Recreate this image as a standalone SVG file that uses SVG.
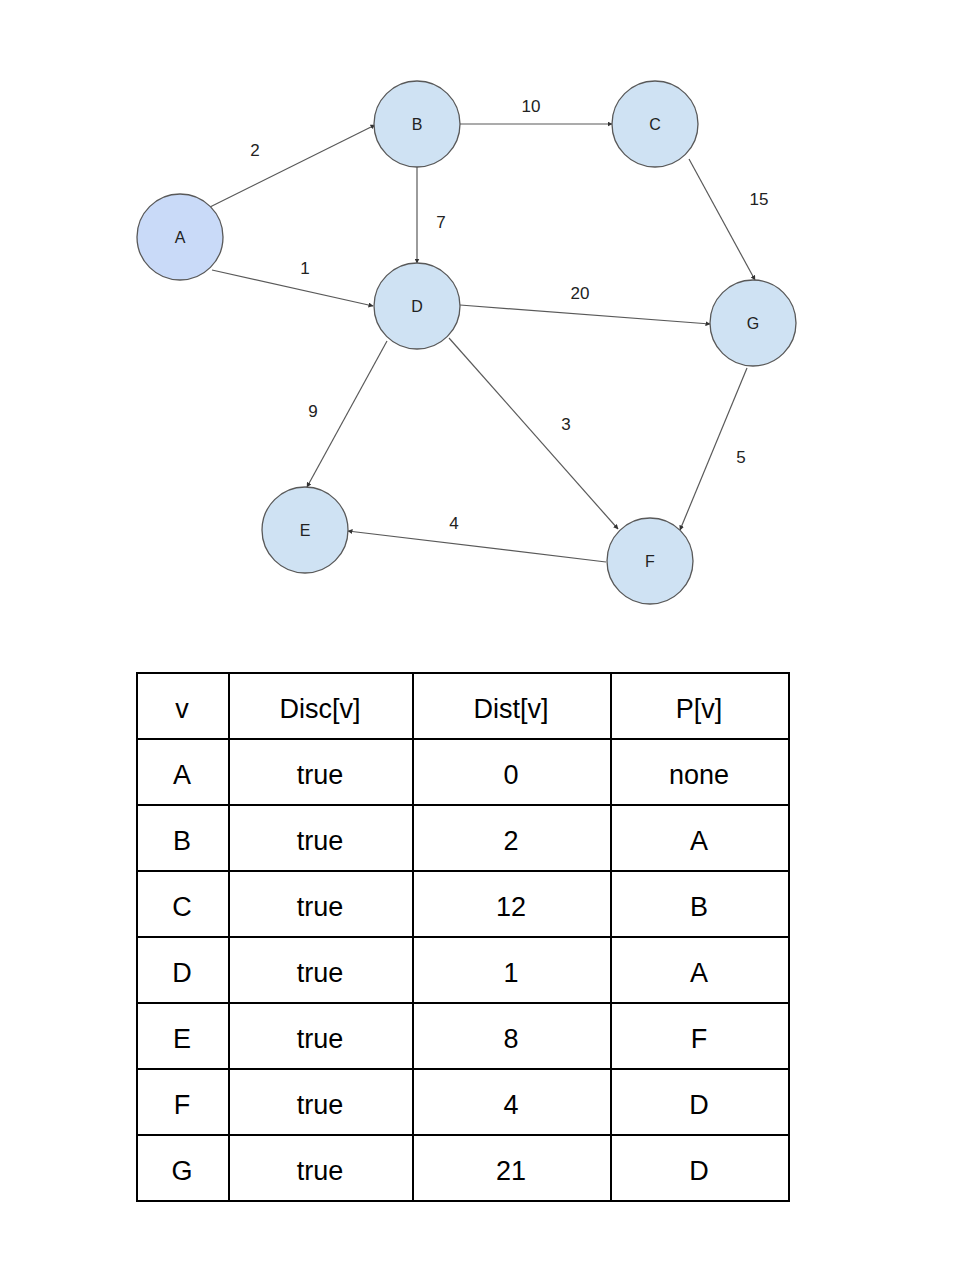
<svg xmlns="http://www.w3.org/2000/svg" width="974" height="1286" viewBox="0 0 974 1286">
  <style>
    .node { fill: #cfe2f3; stroke: #595959; stroke-width: 1.3; }
    .start { fill: #c9daf8; }
    .nlabel { font-family: "Liberation Sans", Arial, sans-serif; font-size: 16px; fill: #222; text-anchor: middle; dominant-baseline: central; }
    .edge { stroke: #595959; stroke-width: 1.2; fill: none; marker-end: url(#arrow); }
    .elabel { font-family: "Liberation Sans", Arial, sans-serif; font-size: 17px; fill: #222; text-anchor: middle; dominant-baseline: central; }
    .grid { stroke: #000; stroke-width: 2; fill: none; }
    .cell { font-family: "Liberation Sans", Arial, sans-serif; font-size: 27px; fill: #000; text-anchor: middle; dominant-baseline: central; }
  </style>
  <defs>
    <marker id="arrow" viewBox="0 0 10 10" refX="9" refY="5" markerWidth="5" markerHeight="5" orient="auto" markerUnits="userSpaceOnUse">
      <path d="M0,0 L10,5 L0,10 z" fill="#333"/>
    </marker>
  </defs>
  <rect width="974" height="1286" fill="#fff"/>

  <!-- weighted directed edges -->
  <g id="edges">
    <line class="edge" x1="210" y1="207" x2="375" y2="125"/>
    <line class="edge" x1="212" y1="270" x2="373" y2="306"/>
    <line class="edge" x1="417" y1="166" x2="417" y2="263"/>
    <line class="edge" x1="460" y1="124" x2="612" y2="124"/>
    <line class="edge" x1="689" y1="159" x2="755" y2="280"/>
    <line class="edge" x1="460" y1="305" x2="710" y2="324"/>
    <line class="edge" x1="387" y1="341" x2="307" y2="487"/>
    <line class="edge" x1="449" y1="338" x2="618" y2="529"/>
    <line class="edge" x1="747" y1="368" x2="680" y2="530"/>
    <line class="edge" x1="606" y1="562" x2="348" y2="531"/>
    <text class="elabel" x="255" y="150">2</text>
    <text class="elabel" x="305" y="268">1</text>
    <text class="elabel" x="441" y="222">7</text>
    <text class="elabel" x="531" y="106">10</text>
    <text class="elabel" x="759" y="199">15</text>
    <text class="elabel" x="580" y="293">20</text>
    <text class="elabel" x="313" y="411">9</text>
    <text class="elabel" x="566" y="424">3</text>
    <text class="elabel" x="741" y="457">5</text>
    <text class="elabel" x="454" y="523">4</text>
  </g>

  <g id="node-A"><circle class="node start" cx="180" cy="237" r="43"/><text class="nlabel" x="180" y="237">A</text></g>
  <g id="node-B"><circle class="node" cx="417" cy="124" r="43"/><text class="nlabel" x="417" y="124">B</text></g>
  <g id="node-C"><circle class="node" cx="655" cy="124" r="43"/><text class="nlabel" x="655" y="124">C</text></g>
  <g id="node-D"><circle class="node" cx="417" cy="306" r="43"/><text class="nlabel" x="417" y="306">D</text></g>
  <g id="node-G"><circle class="node" cx="753" cy="323" r="43"/><text class="nlabel" x="753" y="323">G</text></g>
  <g id="node-E"><circle class="node" cx="305" cy="530" r="43"/><text class="nlabel" x="305" y="530">E</text></g>
  <g id="node-F"><circle class="node" cx="650" cy="561" r="43"/><text class="nlabel" x="650" y="561">F</text></g>

  <!-- result table -->
  <g id="table">
    <rect class="grid" x="137" y="673" width="652" height="528"/>
    <path class="grid" d="M229,673 V1201 M413,673 V1201 M611,673 V1201 M137,739 H789 M137,805 H789 M137,871 H789 M137,937 H789 M137,1003 H789 M137,1069 H789 M137,1135 H789"/>
    <g>
      <text class="cell" x="182" y="709">v</text><text class="cell" x="320" y="709">Disc[v]</text><text class="cell" x="511" y="709">Dist[v]</text><text class="cell" x="699" y="709">P[v]</text>
      <text class="cell" x="182" y="775">A</text><text class="cell" x="320" y="775">true</text><text class="cell" x="511" y="775">0</text><text class="cell" x="699" y="775">none</text>
      <text class="cell" x="182" y="841">B</text><text class="cell" x="320" y="841">true</text><text class="cell" x="511" y="841">2</text><text class="cell" x="699" y="841">A</text>
      <text class="cell" x="182" y="907">C</text><text class="cell" x="320" y="907">true</text><text class="cell" x="511" y="907">12</text><text class="cell" x="699" y="907">B</text>
      <text class="cell" x="182" y="973">D</text><text class="cell" x="320" y="973">true</text><text class="cell" x="511" y="973">1</text><text class="cell" x="699" y="973">A</text>
      <text class="cell" x="182" y="1039">E</text><text class="cell" x="320" y="1039">true</text><text class="cell" x="511" y="1039">8</text><text class="cell" x="699" y="1039">F</text>
      <text class="cell" x="182" y="1105">F</text><text class="cell" x="320" y="1105">true</text><text class="cell" x="511" y="1105">4</text><text class="cell" x="699" y="1105">D</text>
      <text class="cell" x="182" y="1171">G</text><text class="cell" x="320" y="1171">true</text><text class="cell" x="511" y="1171">21</text><text class="cell" x="699" y="1171">D</text>
    </g>
  </g>
</svg>
